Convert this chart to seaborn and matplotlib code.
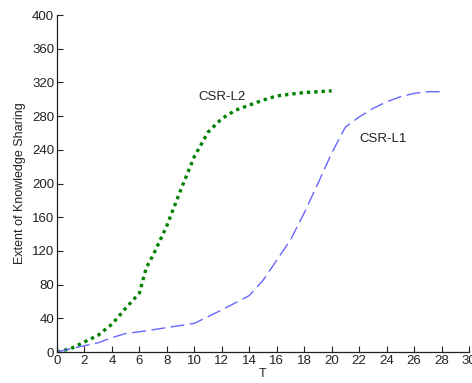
import matplotlib
matplotlib.use("Agg")
import matplotlib.pyplot as plt
import seaborn as sns
import pandas as pd

# CSR-L2 (green dotted)
t_l2 = [0, 1, 2, 3, 4, 5, 6, 6.5, 7, 8, 9, 10, 11, 12, 13, 14, 15, 16, 17, 18, 19, 20]
v_l2 = [0, 4, 12, 20, 33, 52, 70, 100, 115, 150, 192, 232, 261, 277, 287, 293, 299, 304, 306, 308, 309, 310]

# CSR-L1 (blue dashed)
t_l1 = [0, 1, 2, 3, 4, 5, 6, 8, 10, 12, 14, 15, 16, 17, 18, 19, 20, 21, 22, 23, 24, 25, 26, 27, 28]
v_l1 = [0, 4, 7.5, 11, 17, 22, 24, 29, 34, 50, 67, 85, 109, 133, 165, 200, 236, 267, 279, 289, 297, 303, 307, 309, 309]

x_ticks = list(range(0, 31, 2))
y_ticks = list(range(0, 401, 40))

sns.set_theme(style="white")
plt.rcParams['font.family'] = ['Liberation Sans', 'DejaVu Sans']

fig = plt.figure(figsize=(4.72, 3.83), dpi=100)
ax = fig.add_axes([0.1208, 0.0809, 0.8728, 0.8799])

df2 = pd.DataFrame({"T": t_l2, "v": v_l2})
df1 = pd.DataFrame({"T": t_l1, "v": v_l1})

sns.lineplot(data=df2, x="T", y="v", ax=ax, color=(0.0, 0.5, 0.0), linewidth=2.4,
             linestyle=(0, (1.0, 1.2)), dash_capstyle="butt")
sns.lineplot(data=df1, x="T", y="v", ax=ax, color=(0.4, 0.4, 1.0), linewidth=1.0,
             linestyle=(0, (10, 4)))

ax.set_xlim(0, 30)
ax.set_ylim(0, 400)
ax.set_xticks(x_ticks)
ax.set_yticks(y_ticks)
ax.tick_params(axis='both', direction='in', length=4, width=0.8, labelsize=9.5,
               colors='#222222', pad=2, left=True, bottom=True)
for s in ['top', 'right']:
    ax.spines[s].set_visible(False)
for s in ['left', 'bottom']:
    ax.spines[s].set_color('#222222')
    ax.spines[s].set_linewidth(0.9)

ax.set_xlabel("T", fontsize=9, color='#222222', labelpad=1)
ax.set_ylabel("Extent of Knowledge Sharing", fontsize=9, color='#222222', labelpad=4)

ax.text(10.3, 303, "CSR-L2", fontsize=9.5, color='#222222', va='center', ha='left')
ax.text(22.0, 253, "CSR-L1", fontsize=9.5, color='#222222', va='center', ha='left')

fig.savefig("out.png", dpi=100)
